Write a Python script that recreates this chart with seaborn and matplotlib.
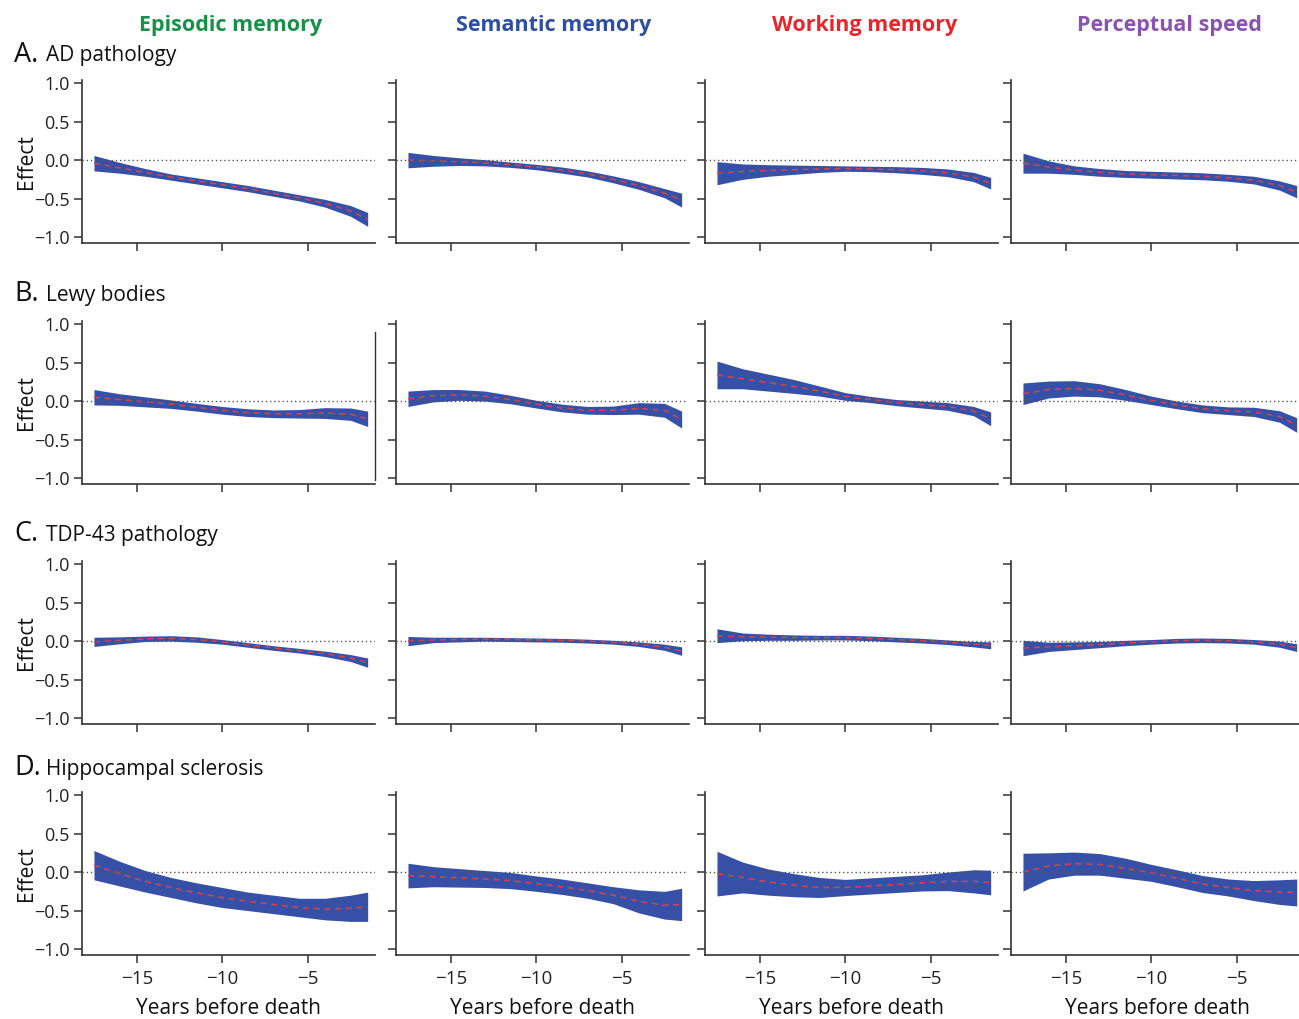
import matplotlib
matplotlib.use("Agg")
import matplotlib.pyplot as plt
import numpy as np
import pandas as pd
import seaborn as sns

# ---------------- data ----------------
years = [-17.5, -16, -14.5, -13, -11.5, -10, -8.5, -7, -5.5, -4, -2.5, -1.5]

row_letters = ["A.", "B.", "C.", "D."]
pathologies = ["AD pathology", "Lewy bodies", "TDP-43 pathology", "Hippocampal sclerosis"]
domains = ["Episodic memory", "Semantic memory", "Working memory", "Perceptual speed"]
domain_colors = ["#18904a", "#2d4ea2", "#e6262b", "#8a53ae"]
y_ticks = [-1.0, -0.5, 0.0, 0.5, 1.0]
x_ticks = [-15, -10, -5]

# A. AD pathology
ad_episodic_mean = [-0.04, -0.10, -0.16, -0.22, -0.27, -0.32, -0.37, -0.43, -0.49, -0.56, -0.66, -0.77]
ad_episodic_hw = [0.10, 0.07, 0.05, 0.04, 0.04, 0.04, 0.04, 0.04, 0.04, 0.05, 0.07, 0.09]
ad_semantic_mean = [0.0, -0.01, -0.02, -0.035, -0.06, -0.09, -0.13, -0.18, -0.25, -0.33, -0.43, -0.52]
ad_semantic_hw = [0.10, 0.07, 0.05, 0.04, 0.035, 0.035, 0.04, 0.04, 0.045, 0.05, 0.06, 0.09]
ad_working_mean = [-0.17, -0.15, -0.135, -0.125, -0.115, -0.11, -0.115, -0.125, -0.14, -0.165, -0.22, -0.30]
ad_working_hw = [0.15, 0.10, 0.075, 0.06, 0.045, 0.035, 0.035, 0.04, 0.045, 0.05, 0.06, 0.075]
ad_speed_mean = [-0.04, -0.09, -0.13, -0.16, -0.18, -0.19, -0.20, -0.21, -0.23, -0.26, -0.33, -0.41]
ad_speed_hw = [0.13, 0.08, 0.055, 0.05, 0.045, 0.045, 0.045, 0.045, 0.045, 0.05, 0.06, 0.08]

# B. Lewy bodies
lb_episodic_mean = [0.05, 0.02, -0.01, -0.04, -0.08, -0.12, -0.15, -0.165, -0.165, -0.155, -0.17, -0.23]
lb_episodic_hw = [0.10, 0.075, 0.065, 0.055, 0.05, 0.05, 0.05, 0.05, 0.055, 0.07, 0.08, 0.10]
lb_semantic_mean = [0.03, 0.07, 0.08, 0.065, 0.02, -0.04, -0.09, -0.12, -0.12, -0.095, -0.12, -0.24]
lb_semantic_hw = [0.10, 0.08, 0.07, 0.065, 0.055, 0.05, 0.05, 0.05, 0.055, 0.075, 0.09, 0.11]
lb_working_mean = [0.34, 0.29, 0.24, 0.19, 0.13, 0.06, 0.02, -0.02, -0.045, -0.07, -0.13, -0.23]
lb_working_hw = [0.18, 0.13, 0.11, 0.09, 0.065, 0.05, 0.04, 0.04, 0.045, 0.05, 0.06, 0.09]
lb_speed_mean = [0.095, 0.15, 0.165, 0.14, 0.08, 0.01, -0.05, -0.10, -0.125, -0.14, -0.20, -0.31]
lb_speed_hw = [0.14, 0.11, 0.10, 0.085, 0.07, 0.055, 0.05, 0.05, 0.05, 0.06, 0.075, 0.095]

# C. TDP-43 pathology
tdp_episodic_mean = [-0.01, 0.01, 0.03, 0.035, 0.02, -0.01, -0.05, -0.09, -0.125, -0.165, -0.22, -0.28]
tdp_episodic_hw = [0.06, 0.045, 0.035, 0.035, 0.035, 0.03, 0.03, 0.03, 0.03, 0.035, 0.045, 0.06]
tdp_semantic_mean = [0.0, 0.015, 0.02, 0.025, 0.02, 0.015, 0.01, 0.0, -0.015, -0.04, -0.08, -0.13]
tdp_semantic_hw = [0.06, 0.035, 0.03, 0.025, 0.025, 0.025, 0.025, 0.025, 0.025, 0.03, 0.04, 0.055]
tdp_working_mean = [0.07, 0.055, 0.05, 0.045, 0.045, 0.045, 0.035, 0.02, 0.005, -0.015, -0.04, -0.055]
tdp_working_hw = [0.09, 0.05, 0.04, 0.035, 0.03, 0.03, 0.03, 0.03, 0.03, 0.03, 0.035, 0.045]
tdp_speed_mean = [-0.09, -0.075, -0.06, -0.045, -0.025, -0.01, 0.005, 0.01, 0.005, -0.01, -0.04, -0.085]
tdp_speed_hw = [0.10, 0.06, 0.05, 0.04, 0.035, 0.03, 0.03, 0.03, 0.03, 0.03, 0.04, 0.05]

# D. Hippocampal sclerosis
hs_episodic_mean = [0.09, -0.02, -0.12, -0.20, -0.27, -0.33, -0.38, -0.42, -0.46, -0.48, -0.47, -0.45]
hs_episodic_hw = [0.19, 0.16, 0.14, 0.13, 0.13, 0.13, 0.12, 0.12, 0.12, 0.14, 0.17, 0.19]
hs_semantic_mean = [-0.045, -0.06, -0.075, -0.09, -0.11, -0.15, -0.19, -0.24, -0.30, -0.38, -0.43, -0.42]
hs_semantic_hw = [0.16, 0.13, 0.12, 0.11, 0.105, 0.10, 0.10, 0.10, 0.11, 0.15, 0.18, 0.21]
hs_working_mean = [-0.02, -0.07, -0.13, -0.17, -0.20, -0.20, -0.18, -0.16, -0.14, -0.12, -0.12, -0.135]
hs_working_hw = [0.29, 0.20, 0.17, 0.15, 0.13, 0.105, 0.105, 0.105, 0.105, 0.12, 0.15, 0.16]
hs_speed_mean = [0.0, 0.08, 0.11, 0.10, 0.05, -0.01, -0.08, -0.155, -0.20, -0.24, -0.26, -0.265]
hs_speed_hw = [0.245, 0.17, 0.15, 0.14, 0.13, 0.11, 0.11, 0.11, 0.11, 0.13, 0.16, 0.175]

panel_means = [
    [ad_episodic_mean, ad_semantic_mean, ad_working_mean, ad_speed_mean],
    [lb_episodic_mean, lb_semantic_mean, lb_working_mean, lb_speed_mean],
    [tdp_episodic_mean, tdp_semantic_mean, tdp_working_mean, tdp_speed_mean],
    [hs_episodic_mean, hs_semantic_mean, hs_working_mean, hs_speed_mean],
]
panel_hws = [
    [ad_episodic_hw, ad_semantic_hw, ad_working_hw, ad_speed_hw],
    [lb_episodic_hw, lb_semantic_hw, lb_working_hw, lb_speed_hw],
    [tdp_episodic_hw, tdp_semantic_hw, tdp_working_hw, tdp_speed_hw],
    [hs_episodic_hw, hs_semantic_hw, hs_working_hw, hs_speed_hw],
]

records = []
for r, path in enumerate(pathologies):
    for c, dom in enumerate(domains):
        for yr, m, h in zip(years, panel_means[r][c], panel_hws[r][c]):
            records.append({"pathology": path, "domain": dom, "year": yr,
                            "effect": m, "lower": m - h, "upper": m + h})
df = pd.DataFrame(records)

# ---------------- style ----------------
sns.set_theme(style="ticks")
plt.rcParams["font.family"] = ["Open Sans", "DejaVu Sans"]
plt.rcParams["axes.unicode_minus"] = True

BAND = "#3650a8"
MEAN_RED = "#cf4550"
SPINE = "#333333"

W, H = 1299, 1019
fig = plt.figure(figsize=(W / 100, H / 100), dpi=100)

col_left = [82, 396, 705, 1011]
col_width = 292.5
row_top = [80, 321, 561, 792]
row_height = 162.5

for r, path in enumerate(pathologies):
    for c, dom in enumerate(domains):
        l = col_left[c]
        t = row_top[r]
        ax = fig.add_axes([l / W, 1 - (t + row_height) / H, col_width / W, row_height / H])
        sub = df[(df.pathology == path) & (df.domain == dom)]
        ax.fill_between(sub["year"], sub["lower"], sub["upper"], color=BAND, lw=0, zorder=2)
        sns.lineplot(data=sub, x="year", y="effect", ax=ax, color=MEAN_RED,
                     linestyle=(0, (4, 3)), lw=1.1, zorder=3)
        ax.axhline(0, color="#555555", ls=(0, (1, 2)), lw=1.0, zorder=4)
        ax.set_xlim(-18.2, -1.1)
        ax.set_ylim(-1.07, 1.04)
        ax.set_xticks(x_ticks)
        ax.set_yticks(y_ticks)
        for s in ["top", "right"]:
            ax.spines[s].set_visible(False)
        for s in ["left", "bottom"]:
            ax.spines[s].set_color(SPINE)
            ax.spines[s].set_linewidth(1.2)
        ax.tick_params(direction="out", length=6, width=1.1, color=SPINE,
                       labelsize=13, labelcolor="#222222", pad=3)
        if c == 0:
            ax.set_ylabel("Effect", fontsize=15, color="#111111", labelpad=-2)
        else:
            ax.set_ylabel("")
            ax.tick_params(labelleft=False)
        if r == 3:
            ax.set_xlabel("Years before death", fontsize=15, color="#111111", labelpad=7)
            ax.tick_params(axis="x", labelsize=13.5, pad=5)
        else:
            ax.set_xlabel("")
            ax.tick_params(labelbottom=False)
        if r == 1 and c == 0:
            ax.spines["right"].set_visible(True)
            ax.spines["right"].set_color(SPINE)
            ax.spines["right"].set_linewidth(1.0)
            ax.spines["right"].set_bounds(-1.03, 0.9)

# column titles
col_centers = [231, 554, 865, 1169]
for dom, col, xc in zip(domains, domain_colors, col_centers):
    fig.text(xc / W, 1 - 26 / H, dom, color=col, fontsize=15.5, fontweight="bold",
             ha="center", va="center")

# row labels
row_label_y = [56, 295, 535, 769]
for letter, path, yc in zip(row_letters, pathologies, row_label_y):
    fig.text(14 / W, 1 - (yc - 1) / H, letter, fontsize=19.5, ha="left", va="center", color="#111111")
    fig.text(46 / W, 1 - yc / H, path, fontsize=15, ha="left", va="center", color="#111111")

fig.savefig("out.png", dpi=100)
